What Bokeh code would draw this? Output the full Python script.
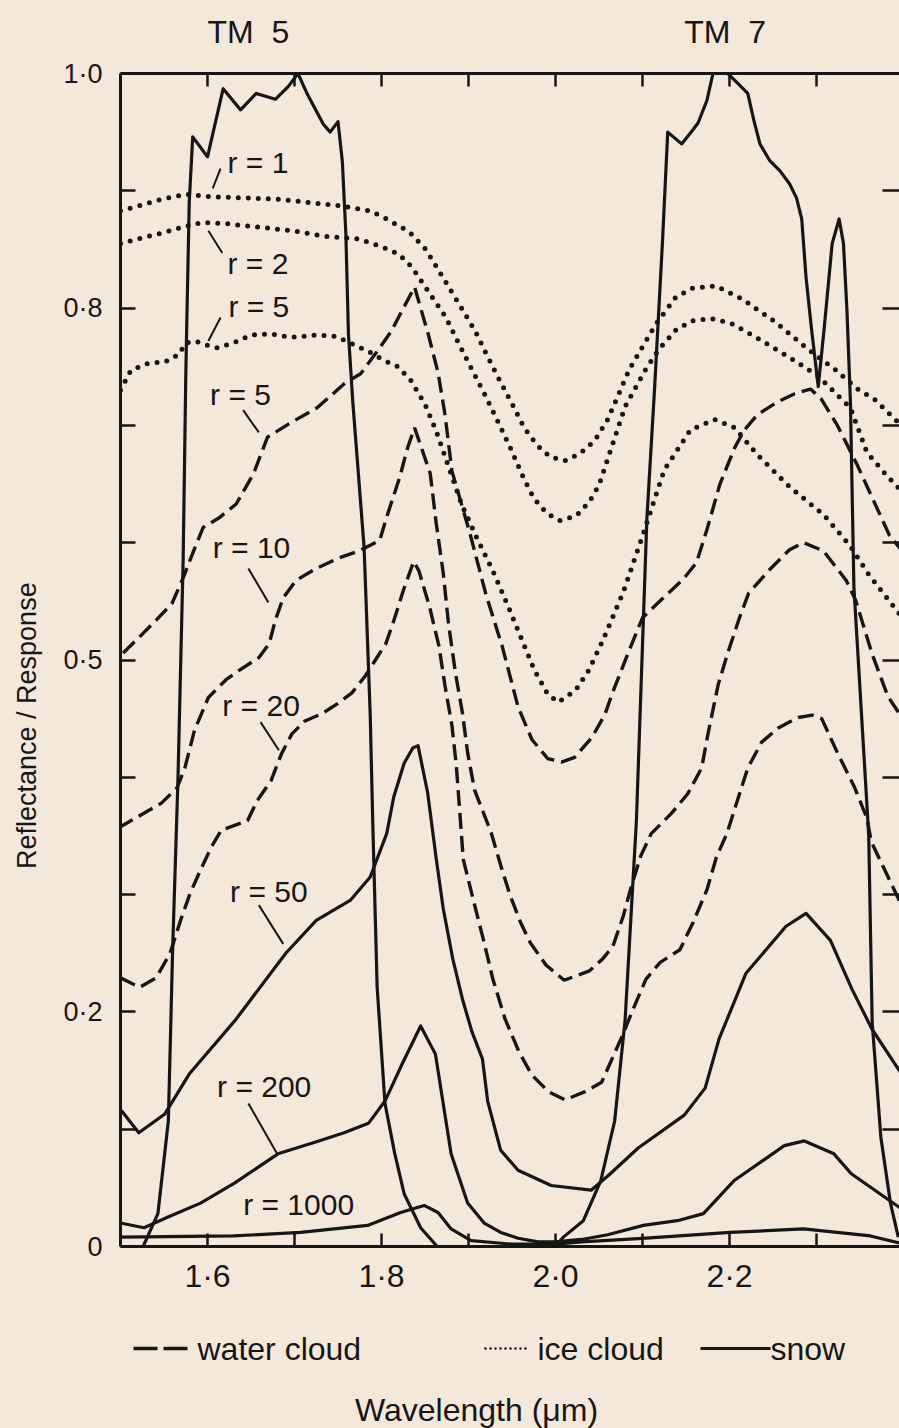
from bokeh.plotting import figure
from bokeh.models import Range1d, LinearAxis, FixedTicker
from bokeh.layouts import column
from bokeh.embed import file_html
from bokeh.resources import INLINE
from bokeh.core.properties import value

# ---------------- data ----------------
# TM band responses
tm5_x = [1.526, 1.543, 1.555, 1.560, 1.566, 1.572, 1.575, 1.576, 1.579, 1.583, 1.600, 1.618, 1.638,
         1.656, 1.678, 1.693, 1.704, 1.715, 1.733, 1.741, 1.750, 1.755, 1.759, 1.762, 1.767, 1.780,
         1.787, 1.790, 1.795, 1.804, 1.815, 1.826, 1.845, 1.864]
tm5_y = [0.0, 0.028, 0.107, 0.255, 0.397, 0.585, 0.74, 0.78, 0.89, 0.946, 0.929, 0.987, 0.969,
         0.983, 0.978, 0.989, 1.0, 0.982, 0.957, 0.950, 0.959, 0.925, 0.864, 0.778, 0.72, 0.596,
         0.454, 0.36, 0.221, 0.122, 0.08, 0.045, 0.016, 0.0]
tm7_x = [2.000, 2.009, 2.032, 2.052, 2.068, 2.080, 2.093, 2.105, 2.114, 2.123, 2.129, 2.145, 2.158,
         2.164, 2.174, 2.181, 2.198, 2.209, 2.221, 2.228, 2.235, 2.246, 2.258, 2.269, 2.277, 2.283,
         2.288, 2.294, 2.302, 2.309, 2.318, 2.326, 2.331, 2.335, 2.339, 2.343, 2.360, 2.364, 2.374,
         2.385, 2.394]
tm7_y = [0.0, 0.008, 0.022, 0.056, 0.107, 0.193, 0.363, 0.62, 0.733, 0.857, 0.950, 0.940, 0.952,
         0.958, 0.977, 1.0, 1.0, 0.992, 0.983, 0.960, 0.94, 0.926, 0.917, 0.906, 0.894, 0.876,
         0.826, 0.784, 0.733, 0.784, 0.855, 0.876, 0.855, 0.798, 0.72, 0.562, 0.351, 0.191, 0.093,
         0.037, 0.008]

# ice cloud (dotted)
ice1_x = [1.500, 1.525, 1.548, 1.576, 1.602, 1.640, 1.679, 1.717, 1.755, 1.786, 1.801, 1.832, 1.851,
          1.874, 1.892, 1.908, 1.919, 1.934, 1.949, 1.964, 1.979, 1.994, 2.011, 2.028, 2.045, 2.060,
          2.085, 2.115, 2.138, 2.157, 2.184, 2.214, 2.253, 2.290, 2.321, 2.347, 2.367, 2.403]
ice1_y = [0.883, 0.888, 0.893, 0.897, 0.895, 0.894, 0.893, 0.890, 0.887, 0.883, 0.878, 0.865, 0.850,
          0.822, 0.800, 0.780, 0.763, 0.741, 0.720, 0.698, 0.683, 0.673, 0.670, 0.676, 0.687, 0.705,
          0.748, 0.786, 0.809, 0.817, 0.819, 0.808, 0.788, 0.765, 0.748, 0.731, 0.722, 0.696]
ice2_x = [1.500, 1.525, 1.548, 1.571, 1.594, 1.621, 1.659, 1.697, 1.736, 1.774, 1.801, 1.820, 1.835,
          1.854, 1.874, 1.888, 1.903, 1.919, 1.934, 1.948, 1.964, 1.975, 1.990, 2.005, 2.024, 2.039,
          2.050, 2.080, 2.103, 2.118, 2.138, 2.156, 2.179, 2.202, 2.233, 2.271, 2.302, 2.339, 2.358,
          2.381, 2.403]
ice2_y = [0.855, 0.860, 0.864, 0.869, 0.873, 0.872, 0.869, 0.866, 0.861, 0.859, 0.852, 0.846, 0.835,
          0.814, 0.792, 0.771, 0.749, 0.726, 0.703, 0.681, 0.654, 0.638, 0.625, 0.619, 0.623, 0.635,
          0.649, 0.716, 0.747, 0.764, 0.781, 0.789, 0.791, 0.787, 0.774, 0.757, 0.742, 0.715, 0.677,
          0.657, 0.640]
ice5_x = [1.500, 1.512, 1.532, 1.551, 1.568, 1.574, 1.586, 1.601, 1.612, 1.632, 1.650, 1.673, 1.696,
          1.724, 1.747, 1.765, 1.785, 1.804, 1.819, 1.834, 1.850, 1.863, 1.892, 1.909, 1.928, 1.946,
          1.962, 1.976, 1.991, 2.003, 2.023, 2.038, 2.054, 2.078, 2.101, 2.125, 2.155, 2.183, 2.206,
          2.232, 2.270, 2.308, 2.338, 2.360, 2.383, 2.401]
ice5_y = [0.730, 0.747, 0.753, 0.754, 0.761, 0.770, 0.772, 0.768, 0.766, 0.771, 0.777, 0.778, 0.775,
          0.777, 0.776, 0.770, 0.763, 0.755, 0.750, 0.738, 0.718, 0.695, 0.633, 0.605, 0.576, 0.545,
          0.516, 0.491, 0.471, 0.464, 0.474, 0.491, 0.516, 0.558, 0.608, 0.662, 0.696, 0.705, 0.698,
          0.675, 0.647, 0.624, 0.598, 0.573, 0.551, 0.534]

# water cloud (dashed)
wat5_x = [1.503, 1.521, 1.541, 1.559, 1.572, 1.583, 1.595, 1.613, 1.633, 1.653, 1.669, 1.695, 1.726,
          1.758, 1.776, 1.793, 1.811, 1.838, 1.854, 1.865, 1.873, 1.881, 1.902, 1.920, 1.939, 1.957,
          1.973, 1.991, 2.007, 2.022, 2.042, 2.057, 2.065, 2.084, 2.100, 2.124, 2.147, 2.162, 2.174,
          2.189, 2.206, 2.217, 2.232, 2.255, 2.275, 2.293, 2.305, 2.324, 2.347, 2.384, 2.403]
wat5_y = [0.506, 0.519, 0.534, 0.548, 0.570, 0.591, 0.613, 0.621, 0.633, 0.659, 0.690, 0.702, 0.715,
          0.736, 0.744, 0.761, 0.780, 0.818, 0.777, 0.745, 0.709, 0.661, 0.607, 0.556, 0.511, 0.460,
          0.432, 0.416, 0.413, 0.417, 0.434, 0.454, 0.471, 0.507, 0.536, 0.553, 0.569, 0.583, 0.611,
          0.650, 0.681, 0.696, 0.709, 0.720, 0.727, 0.731, 0.723, 0.700, 0.666, 0.606, 0.589]
wat10_x = [1.498, 1.519, 1.547, 1.565, 1.574, 1.585, 1.601, 1.621, 1.636, 1.659, 1.671, 1.678, 1.687,
           1.702, 1.725, 1.751, 1.774, 1.798, 1.806, 1.821, 1.830, 1.838, 1.856, 1.863, 1.871, 1.877,
           1.885, 1.893, 1.899, 1.907, 1.926, 1.937, 1.948, 1.960, 1.971, 1.989, 2.010, 2.039, 2.054,
           2.066, 2.078, 2.086, 2.098, 2.110, 2.133, 2.152, 2.168, 2.175, 2.187, 2.198, 2.211, 2.222,
           2.246, 2.269, 2.285, 2.308, 2.334, 2.345, 2.364, 2.382, 2.400]
wat10_y = [0.357, 0.366, 0.378, 0.391, 0.408, 0.440, 0.468, 0.483, 0.491, 0.502, 0.514, 0.534, 0.553,
           0.568, 0.578, 0.587, 0.593, 0.602, 0.622, 0.656, 0.681, 0.698, 0.659, 0.616, 0.574, 0.531,
           0.489, 0.455, 0.421, 0.389, 0.353, 0.325, 0.299, 0.276, 0.259, 0.240, 0.227, 0.235, 0.245,
           0.256, 0.282, 0.304, 0.333, 0.352, 0.369, 0.386, 0.408, 0.436, 0.479, 0.506, 0.535, 0.557,
           0.577, 0.594, 0.600, 0.593, 0.568, 0.551, 0.505, 0.469, 0.449]
wat20_x = [1.500, 1.522, 1.541, 1.557, 1.569, 1.580, 1.592, 1.604, 1.616, 1.646, 1.657, 1.673, 1.685,
           1.697, 1.712, 1.731, 1.750, 1.766, 1.781, 1.793, 1.805, 1.813, 1.825, 1.837, 1.843, 1.855,
           1.866, 1.873, 1.881, 1.886, 1.894, 1.906, 1.917, 1.928, 1.942, 1.958, 1.973, 1.992, 2.011,
           2.034, 2.053, 2.062, 2.077, 2.089, 2.104, 2.120, 2.143, 2.158, 2.174, 2.185, 2.197, 2.209,
           2.221, 2.237, 2.256, 2.279, 2.295, 2.306, 2.324, 2.344, 2.358, 2.363, 2.399]
wat20_y = [0.229, 0.221, 0.229, 0.250, 0.278, 0.301, 0.321, 0.340, 0.355, 0.363, 0.380, 0.397, 0.420,
           0.437, 0.448, 0.454, 0.463, 0.472, 0.486, 0.500, 0.514, 0.531, 0.559, 0.584, 0.576, 0.546,
           0.512, 0.478, 0.444, 0.410, 0.330, 0.294, 0.262, 0.228, 0.194, 0.166, 0.146, 0.132, 0.125,
           0.132, 0.140, 0.155, 0.180, 0.202, 0.228, 0.242, 0.253, 0.276, 0.304, 0.332, 0.352, 0.380,
           0.408, 0.430, 0.442, 0.451, 0.453, 0.450, 0.421, 0.391, 0.365, 0.345, 0.289]

# snow (solid)
snow50_x = [1.501, 1.521, 1.551, 1.579, 1.632, 1.690, 1.725, 1.764, 1.787, 1.806, 1.814, 1.826, 1.836,
            1.842, 1.853, 1.863, 1.871, 1.882, 1.893, 1.904, 1.916, 1.922, 1.937, 1.957, 1.995, 2.041,
            2.063, 2.095, 2.148, 2.172, 2.188, 2.219, 2.265, 2.288, 2.316, 2.341, 2.364, 2.397]
snow50_y = [0.116, 0.097, 0.113, 0.147, 0.193, 0.250, 0.278, 0.295, 0.315, 0.352, 0.383, 0.412, 0.425,
            0.427, 0.387, 0.330, 0.288, 0.245, 0.211, 0.183, 0.160, 0.124, 0.082, 0.065, 0.052, 0.048,
            0.062, 0.084, 0.112, 0.135, 0.177, 0.233, 0.273, 0.284, 0.261, 0.219, 0.185, 0.148]
snow200_x = [1.500, 1.527, 1.554, 1.592, 1.631, 1.681, 1.728, 1.757, 1.785, 1.804, 1.824, 1.845, 1.862,
             1.880, 1.899, 1.918, 1.937, 1.957, 1.980, 2.000, 2.030, 2.060, 2.101, 2.140, 2.170, 2.205,
             2.263, 2.286, 2.320, 2.340, 2.396]
snow200_y = [0.020, 0.016, 0.025, 0.037, 0.054, 0.079, 0.090, 0.097, 0.105, 0.124, 0.156, 0.188, 0.164,
             0.079, 0.037, 0.020, 0.012, 0.007, 0.004, 0.004, 0.006, 0.010, 0.018, 0.022, 0.028, 0.056,
             0.086, 0.090, 0.079, 0.062, 0.033]
snow1000_x = [1.500, 1.630, 1.707, 1.784, 1.822, 1.849, 1.865, 1.880, 1.903, 1.950, 2.000, 2.030, 2.100,
              2.201, 2.285, 2.362, 2.395]
snow1000_y = [0.008, 0.009, 0.012, 0.018, 0.029, 0.035, 0.029, 0.015, 0.005, 0.002, 0.002, 0.004, 0.007,
              0.012, 0.015, 0.009, 0.003]

# tick labels
y_ticks = [0.0, 0.1, 0.2, 0.3, 0.4, 0.5, 0.6, 0.7, 0.8, 0.9, 1.0]
y_tick_labels = ["0", "", "0·2", "", "", "0·5", "", "", "0·8", "", "1·0"]
x_ticks = [1.6, 1.7, 1.8, 1.9, 2.0, 2.1, 2.2, 2.3]
x_tick_labels = ["1·6", "", "1·8", "", "2·0", "", "2·2", ""]

# band names (centred over the bands) and y title
band_centers = [1.647, 2.195]
band_names = ["TM\u00a0\u00a05", "TM\u00a0\u00a07"]
y_title_pos = [0.444]
y_title = ["Reflectance / Response"]

# curve labels: text, anchor, leader line
curve_labels = ["r = 1", "r = 2", "r = 5", "r = 5", "r = 10", "r = 20", "r = 50", "r = 200", "r = 1000"]
label_x = [1.623, 1.623, 1.624, 1.603, 1.606, 1.617, 1.626, 1.611, 1.641]
label_y = [0.924, 0.838, 0.801, 0.726, 0.596, 0.461, 0.303, 0.136, 0.036]
lead_x0 = [1.615, 1.601, 1.615, 1.641, 1.647, 1.661, 1.659, 1.647]
lead_y0 = [0.919, 0.866, 0.792, 0.713, 0.578, 0.447, 0.291, 0.122]
lead_x1 = [1.606, 1.617, 1.601, 1.659, 1.670, 1.682, 1.687, 1.680]
lead_y1 = [0.902, 0.847, 0.772, 0.694, 0.549, 0.423, 0.258, 0.079]

legend_names = ["water cloud", "ice cloud", "snow"]
x_title = ["Wavelength (μm)"]

# ---------------- style ----------------
BG = "#f4e8da"
INK = "#161616"
FONT = "Liberation Sans"
DASH = "16 7"
DOT = "0 10"

p = figure(width=899, height=1306, x_range=Range1d(1.5, 2.3954), y_range=Range1d(0.0, 1.0),
           output_backend="svg", toolbar_location=None,
           x_axis_location=None, y_axis_location=None,
           background_fill_color=BG, border_fill_color=BG, outline_line_color=None,
           min_border_left=120, min_border_right=0, min_border_top=73, min_border_bottom=60)
p.grid.visible = False


def make_axis(ticks, labels, size, tick_in, show_line=True, show_ticks=True, standoff=10,
              orientation="horizontal"):
    return LinearAxis(ticker=FixedTicker(ticks=ticks),
                      major_label_overrides={t: l for t, l in zip(ticks, labels)},
                      major_tick_in=tick_in, major_tick_out=0,
                      major_tick_line_color=INK if show_ticks else None, major_tick_line_width=2.5,
                      minor_tick_line_color=None,
                      axis_line_color=INK if show_line else None, axis_line_width=3,
                      major_label_text_font=FONT, major_label_text_font_size=size,
                      major_label_text_color=INK, major_label_standoff=standoff,
                      major_label_orientation=orientation)


p.add_layout(make_axis(x_ticks, x_tick_labels, "32px", 13, standoff=11), "below")
p.add_layout(make_axis(y_ticks, y_tick_labels, "27px", 15, standoff=18), "left")
p.add_layout(make_axis(y_title_pos, y_title, "27px", 0, show_line=False, show_ticks=False,
                       standoff=18, orientation="vertical"), "left")
p.add_layout(make_axis(x_ticks, [""] * len(x_ticks), "0px", 13, standoff=0), "above")
p.add_layout(make_axis(band_centers, band_names, "32px", 0, show_line=False, show_ticks=False,
                       standoff=24), "above")
p.add_layout(make_axis(y_ticks[1:-1], [""] * 9, "0px", 17, show_line=False, standoff=0), "right")

# band responses and snow
for xs, ys in [(tm5_x, tm5_y), (tm7_x, tm7_y), (snow50_x, snow50_y),
               (snow200_x, snow200_y), (snow1000_x, snow1000_y)]:
    p.line(xs, ys, line_color=INK, line_width=3.2, line_join="round")
# water cloud
for xs, ys in [(wat5_x, wat5_y), (wat10_x, wat10_y), (wat20_x, wat20_y)]:
    p.line(xs, ys, line_color=INK, line_width=3.4, line_dash=DASH)
# ice cloud
for xs, ys in [(ice1_x, ice1_y), (ice2_x, ice2_y), (ice5_x, ice5_y)]:
    p.line(xs, ys, line_color=INK, line_width=5, line_dash=DOT, line_cap="round")

# curve labels + leaders
p.text(x=label_x, y=label_y, text=curve_labels, text_font=value(FONT), text_font_size="30px",
       text_color=INK, text_baseline="middle", text_align="left")
p.segment(x0=lead_x0, y0=lead_y0, x1=lead_x1, y1=lead_y1, line_color=INK, line_width=2)

# ---------------- legend + x title strip (x in page pixels, frame spans 120..899) ----------------
q = figure(width=899, height=122, x_range=Range1d(120, 899), y_range=Range1d(0, 122),
           output_backend="svg", toolbar_location=None,
           x_axis_location=None, y_axis_location=None,
           background_fill_color=BG, border_fill_color=BG, outline_line_color=None,
           min_border_left=120, min_border_right=0, min_border_top=0, min_border_bottom=0)
q.grid.visible = False
q.line([133, 190], [80, 80], line_color=INK, line_width=3.4, line_dash="24 6")
q.line([485, 530], [80, 80], line_color=INK, line_width=2.6, line_dash="0 5", line_cap="round")
q.line([700, 770], [80, 80], line_color=INK, line_width=3.2)
q.text(x=[197, 537, 770], y=[80, 80, 80], text=legend_names, text_font=value(FONT),
       text_font_size="32px", text_color=INK, text_baseline="middle", text_align="left")
q.text(x=[476], y=[19], text=x_title, text_font=value(FONT), text_font_size="32px",
       text_color=INK, text_baseline="middle", text_align="center")

layout = column(p, q, spacing=0)
html = file_html(layout, INLINE, title="TM reflectance")
style = "<style>html, body {margin:0; padding:0; background-color:%s;}</style>" % BG
i = html.rfind("</head>")
if i >= 0:
    html = html[:i] + style + html[i:]
open("out.html", "w").write(html)
